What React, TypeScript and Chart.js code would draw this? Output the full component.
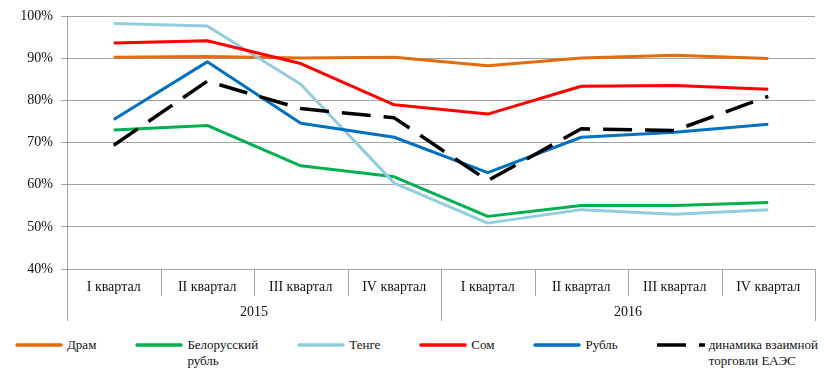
import React, { useEffect, useRef } from 'react';
import { Chart, registerables } from 'chart.js';

Chart.register(...registerables);

const quarters = ['I квартал', 'II квартал', 'III квартал', 'IV квартал', 'I квартал', 'II квартал', 'III квартал', 'IV квартал'];
const years = ['2015', '2016'];
const quartersPerYear = 4;

const dram = [90.3, 90.5, 90.1, 90.3, 88.3, 90.1, 90.8, 90.0];
const belRub = [73.0, 74.1, 64.5, 61.9, 52.5, 55.1, 55.1, 55.8];
const tenge = [98.3, 97.7, 83.9, 60.4, 50.9, 54.1, 53.0, 54.1];
const som = [93.7, 94.2, 88.8, 79.0, 76.8, 83.4, 83.6, 82.7];
const rubl = [75.5, 89.2, 74.6, 71.3, 62.9, 71.3, 72.5, 74.4];
const eaeu = [69.4, 84.6, 78.1, 75.9, 61.0, 73.3, 72.9, 81.0];

const seriesNames = ['Драм', 'Белорусский\nрубль', 'Тенге', 'Сом', 'Рубль', 'динамика взаимной\nторговли ЕАЭС'];
const seriesData = [dram, belRub, tenge, som, rubl, eaeu];
const seriesColors = ['#E46C0A', '#00B050', '#93CDDD', '#FF0000', '#0070C0', '#000000'];
const seriesDashed = [false, false, false, false, false, true];

const yMin = 40;
const yMax = 100;
const yStep = 10;

const GRID = '#a3a3a3';
const FONT = "'Liberation Serif', 'Times New Roman', serif";
const TEXT = '#111111';
const DASH = [29, 13];

const groupAxisPlugin = {
  id: 'groupAxis',
  afterDraw(chart: any) {
    const { ctx, chartArea } = chart;
    const x = chart.scales.x;
    const n = quarters.length;
    const p0 = x.getPixelForTick(0);
    const step = x.getPixelForTick(1) - p0;
    const bottom = chartArea.bottom;
    ctx.save();
    ctx.strokeStyle = GRID;
    ctx.lineWidth = 1;
    for (let i = 0; i <= n; i++) {
      const px = Math.round(p0 + (i - 0.5) * step) + 0.5;
      const isYear = i % quartersPerYear === 0;
      ctx.beginPath();
      ctx.moveTo(px, bottom);
      ctx.lineTo(px, bottom + (isYear ? 52 : 27));
      ctx.stroke();
    }
    ctx.fillStyle = TEXT;
    ctx.font = `14px ${FONT}`;
    ctx.textAlign = 'center';
    ctx.textBaseline = 'middle';
    years.forEach((yr, j) => {
      const a = p0 + (j * quartersPerYear - 0.5) * step;
      const b = p0 + ((j + 1) * quartersPerYear - 0.5) * step;
      ctx.fillText(yr, (a + b) / 2, bottom + 43);
    });
    ctx.restore();
  },
};

function LegendSwatch({ color, dashed }: { color: string; dashed: boolean }) {
  return (
    <svg width={48} height={16} style={{ display: 'block', flex: '0 0 auto' }}>
      {dashed ? (
        <line x1={0} y1={8} x2={48} y2={8} stroke={color} strokeWidth={3.5} strokeDasharray={DASH.join(' ')} />
      ) : (
        <line x1={2} y1={8} x2={46} y2={8} stroke={color} strokeWidth={3.5} strokeLinecap="round" />
      )}
    </svg>
  );
}

export default function App() {
  const canvasRef = useRef<HTMLCanvasElement | null>(null);

  useEffect(() => {
    if (!canvasRef.current) return;
    const chart = new Chart(canvasRef.current, {
      type: 'line',
      data: {
        labels: quarters,
        datasets: seriesData.map((d, i) => ({
          label: seriesNames[i],
          data: d,
          borderColor: seriesColors[i],
          backgroundColor: seriesColors[i],
          borderWidth: seriesDashed[i] ? 3.5 : 3,
          borderDash: seriesDashed[i] ? DASH : [],
          pointRadius: 0,
          tension: 0,
          borderJoinStyle: 'round' as const,
          fill: false,
          order: seriesData.length - i,
        })),
      },
      options: {
        animation: false,
        responsive: true,
        maintainAspectRatio: false,
        layout: { padding: { left: 0, right: 9, top: 15, bottom: 0 } },
        plugins: { legend: { display: false }, tooltip: { enabled: false } },
        scales: {
          x: {
            type: 'category',
            offset: true,
            grid: { display: false, drawTicks: false },
            border: { display: false },
            ticks: {
              color: TEXT,
              font: { family: FONT, size: 14 },
              padding: 10,
              maxRotation: 0,
              autoSkip: false,
            },
            afterFit: (s: any) => {
              s.height = 61;
            },
          },
          y: {
            min: yMin,
            max: yMax,
            grid: { color: GRID, lineWidth: 1, tickLength: 6 },
            border: { display: true, color: GRID, width: 1 },
            ticks: {
              stepSize: yStep,
              color: TEXT,
              font: { family: FONT, size: 14 },
              padding: 8,
              callback: (v: any) => `${v}%`,
            },
            afterFit: (s: any) => {
              s.width = 67;
            },
          },
        },
      },
      plugins: [groupAxisPlugin],
    });
    return () => chart.destroy();
  }, []);

  return (
    <div style={{ position: 'absolute', left: 0, top: 0, width: 824, height: 379, background: '#fff' }}>
      <div style={{ position: 'absolute', left: 0, top: 0, width: 824, height: 330 }}>
        <canvas ref={canvasRef} />
      </div>
      <div
        style={{
          position: 'absolute',
          left: 15,
          top: 337,
          width: 900,
          display: 'flex',
          alignItems: 'flex-start',
          gap: 39,
          fontFamily: FONT,
          fontSize: 13,
          lineHeight: '16px',
          color: TEXT,
        }}
      >
        {seriesNames.map((name, i) => (
          <div key={i} style={{ display: 'flex', alignItems: 'flex-start', flex: '0 0 auto' }}>
            <LegendSwatch color={seriesColors[i]} dashed={seriesDashed[i]} />
            <div style={{ marginLeft: 4, whiteSpace: 'pre', flex: '0 0 auto' }}>{name}</div>
          </div>
        ))}
      </div>
    </div>
  );
}
